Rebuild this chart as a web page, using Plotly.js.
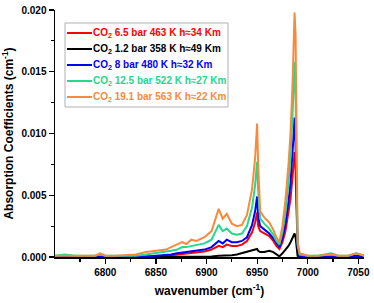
<!DOCTYPE html>
<html>
<head>
<meta charset="utf-8">
<script src="https://cdn.plot.ly/plotly-3.0.1.min.js"></script>
<style>html,body{margin:0;padding:0;background:#fff;}#chart{width:374px;height:303px;}</style>
</head>
<body>
<div id="chart"></div>
<script>
// wavenumber grid (cm-1)
var wavenumber = [6750, 6760, 6770, 6780, 6790, 6795, 6800, 6810, 6820, 6830, 6840, 6850, 6860, 6865, 6871, 6876, 6880, 6885, 6890, 6898, 6905, 6912, 6916, 6920, 6925, 6930, 6935, 6940, 6945, 6948, 6950, 6951, 6953, 6957, 6962, 6966, 6969, 6972, 6975, 6978, 6981, 6983, 6985, 6987, 6988, 6989, 6990, 6992, 7000, 7010, 7023, 7030, 7040, 7048, 7056];

var seriesNames = [
  "CO<sub>2</sub> 6.5 bar 463 K h\u224834 Km",
  "CO<sub>2</sub> 1.2 bar 358 K h\u224849 Km",
  "CO<sub>2</sub> 8 bar 480 K h\u224832 Km",
  "CO<sub>2</sub> 12.5 bar 522 K h\u224827 Km",
  "CO<sub>2</sub> 19.1 bar 563 K h\u224822 Km"
];
var seriesColors = ["#FF0000", "#000000", "#0000FF", "#22D98C", "#F98A3A"];

var red6p5 = [0.00002, 0.00002, 0.00002, 0.00002, 0.00002, 0.00002, 0.00002, 0.00002, 0.00002, 0.00002, 0.00002, 0.00003, 0.0001, 0.00012, 0.0002, 0.00025, 0.00028, 0.0003, 0.00035, 0.00045, 0.0006, 0.0009, 0.0008, 0.0010, 0.0009, 0.0009, 0.0010, 0.0013, 0.0020, 0.0028, 0.0036, 0.0025, 0.0021, 0.0019, 0.0017, 0.0013, 0.0009, 0.00065, 0.0012, 0.0021, 0.0035, 0.0047, 0.0065, 0.0085, 0.0070, 0.0030, 0.0006, 0.0001, 0.00003, 0.00003, 0.00005, 0.00003, 0.00003, 0.00006, 0.00003];
var black1p2 = [0.00001, 0.00001, 0.00001, 0.00001, 0.00001, 0.00001, 0.00001, 0.00001, 0.00001, 0.00001, 0.00001, 0.00001, 0.00001, 0.00001, 0.00001, 0.00001, 0.00001, 0.00002, 0.00002, 0.00003, 0.00005, 0.0001, 0.0001, 0.00015, 0.00015, 0.0002, 0.0003, 0.0004, 0.0005, 0.0006, 0.00065, 0.0005, 0.0004, 0.0004, 0.0005, 0.0004, 0.0002, 0.00005, 0.0003, 0.0006, 0.0009, 0.0012, 0.0016, 0.0019, 0.0016, 0.0008, 0.0001, 0.00001, 0.00001, 0.00001, 0.00001, 0.00001, 0.00001, 0.00001, 0.00001];
var blue8 = [0.00003, 0.00003, 0.00003, 0.00003, 0.00003, 0.00003, 0.00003, 0.00003, 0.00003, 0.00003, 0.00005, 0.0001, 0.00015, 0.0002, 0.0003, 0.00035, 0.0004, 0.00045, 0.0005, 0.0006, 0.0008, 0.0013, 0.0011, 0.0014, 0.0012, 0.0012, 0.0013, 0.0016, 0.0026, 0.0037, 0.0049, 0.0033, 0.0025, 0.0022, 0.0019, 0.0015, 0.0011, 0.0008, 0.0015, 0.0027, 0.0045, 0.0060, 0.0085, 0.0113, 0.0090, 0.0040, 0.0008, 0.0001, 0.00005, 0.00005, 0.00008, 0.00005, 0.00005, 0.0001, 0.00005];
var green12p5 = [0.0001, 0.0002, 0.0001, 0.0001, 0.0001, 0.0002, 0.0001, 0.0001, 0.0001, 0.0001, 0.0002, 0.0003, 0.0004, 0.0005, 0.0006, 0.0008, 0.0008, 0.0009, 0.0010, 0.0011, 0.0014, 0.0026, 0.0021, 0.0023, 0.0019, 0.0018, 0.0019, 0.0025, 0.0040, 0.0058, 0.0077, 0.0055, 0.0031, 0.0027, 0.0023, 0.0018, 0.0013, 0.0010, 0.0020, 0.0036, 0.0060, 0.0082, 0.0115, 0.0158, 0.0130, 0.0060, 0.0010, 0.0002, 0.0001, 0.0001, 0.0003, 0.0001, 0.0001, 0.0003, 0.0001];
var orange19p1 = [0.0001, 0.0001, 0.0001, 0.00005, 0.0001, 0.0003, 0.0001, 0.0001, 0.00015, 0.0002, 0.0004, 0.0005, 0.0006, 0.0008, 0.0010, 0.0012, 0.00105, 0.0014, 0.0013, 0.0016, 0.0021, 0.0039, 0.0031, 0.0035, 0.0027, 0.0025, 0.0026, 0.0034, 0.0055, 0.0080, 0.0108, 0.0075, 0.0037, 0.0032, 0.0028, 0.0022, 0.0016, 0.0012, 0.0025, 0.0046, 0.0075, 0.0100, 0.0140, 0.0198, 0.0180, 0.0080, 0.0012, 0.0003, 0.0001, 0.0001, 0.0002, 0.0001, 0.0001, 0.0003, 0.0001];

var seriesValues = [red6p5, black1p2, blue8, green12p5, orange19p1];

var traces = seriesValues.map(function (vals, i) {
  return {
    x: wavenumber, y: vals, type: "scatter", mode: "lines",
    name: seriesNames[i], showlegend: false,
    line: {color: seriesColors[i], width: 2}
  };
});

// legend box drawn in paper coordinates (plot area: 55..364 px wide, 10..257 px tall)
var W = 374, H = 303, mL = 55, mR = 10, mT = 10, mB = 46;
var pw = W - mL - mR, ph = H - mT - mB;
function px2x(px) { return (px - mL) / pw; }
function py2y(py) { return (H - mB - py) / ph; }

var shapes = [{
  type: "rect", xref: "paper", yref: "paper",
  x0: px2x(65), x1: px2x(228), y0: py2y(107), y1: py2y(23),
  line: {color: "#b0b0b0", width: 1}, fillcolor: "#fff", layer: "above"
}];
var annotations = [];
seriesNames.forEach(function (nm, i) {
  var cy = 33 + i * 16;
  shapes.push({
    type: "line", xref: "paper", yref: "paper",
    x0: px2x(67), x1: px2x(92), y0: py2y(cy), y1: py2y(cy),
    line: {color: seriesColors[i], width: 2}, layer: "above"
  });
  annotations.push({
    xref: "paper", yref: "paper", x: px2x(92), y: py2y(cy),
    xanchor: "left", yanchor: "middle", showarrow: false,
    text: nm, xshift: -1,
    font: {family: "Liberation Sans, Arial, sans-serif", size: 10, weight: "bold", color: seriesColors[i]}
  });
});

var font = {family: "Liberation Sans, Arial, sans-serif", color: "#000"};
var layout = {
  width: W, height: H,
  margin: {l: mL, r: mR, t: mT, b: mB},
  paper_bgcolor: "#fff", plot_bgcolor: "#fff",
  font: {family: font.family, size: 10, color: "#000"},
  showlegend: false,
  shapes: shapes,
  annotations: annotations,
  xaxis: {
    range: [6750.3, 7055.6], tick0: 6750, dtick: 50,
    showgrid: false, zeroline: false,
    showline: true, linecolor: "#000", linewidth: 1.5,
    ticks: "outside", ticklen: 5, tickwidth: 1.2, tickcolor: "#000",
    minor: {dtick: 25, ticks: "outside", ticklen: 3, tickcolor: "#000", showgrid: false},
    tickfont: {family: font.family, size: 10, weight: "bold"},
    title: {text: "wavenumber (cm<sup>-1</sup>)", font: {family: font.family, size: 12, weight: "bold"}, standoff: 10}
  },
  yaxis: {
    range: [0, 0.02], dtick: 0.005, tickformat: ".3f",
    showgrid: false, zeroline: false,
    showline: true, linecolor: "#000", linewidth: 1.5,
    ticks: "outside", ticklen: 5, tickwidth: 1.2, tickcolor: "#000",
    minor: {dtick: 0.0025, ticks: "outside", ticklen: 3, tickcolor: "#000", showgrid: false},
    tickfont: {family: font.family, size: 10, weight: "bold"},
    title: {text: "Absorption Coefficients (cm<sup>-1</sup>)", font: {family: font.family, size: 12, weight: "bold"}, standoff: 5}
  },
  xaxis2: {
    overlaying: "x", side: "top", anchor: "y",
    range: [6750.3, 7055.6], tick0: 6781.5, dtick: 30.5,
    showgrid: false, zeroline: false, showticklabels: false,
    showline: true, linecolor: "#444", linewidth: 1,
    ticks: "inside", ticklen: 4, tickcolor: "#444"
  },
  yaxis2: {
    overlaying: "y", side: "right", anchor: "x",
    range: [0, 0.02], dtick: 0.002,
    showgrid: false, zeroline: false, showticklabels: false,
    showline: true, linecolor: "#444", linewidth: 1,
    ticks: "inside", ticklen: 4, tickcolor: "#444"
  }
};

Plotly.newPlot("chart", traces, layout, {displayModeBar: false, staticPlot: true});
</script>
</body>
</html>
